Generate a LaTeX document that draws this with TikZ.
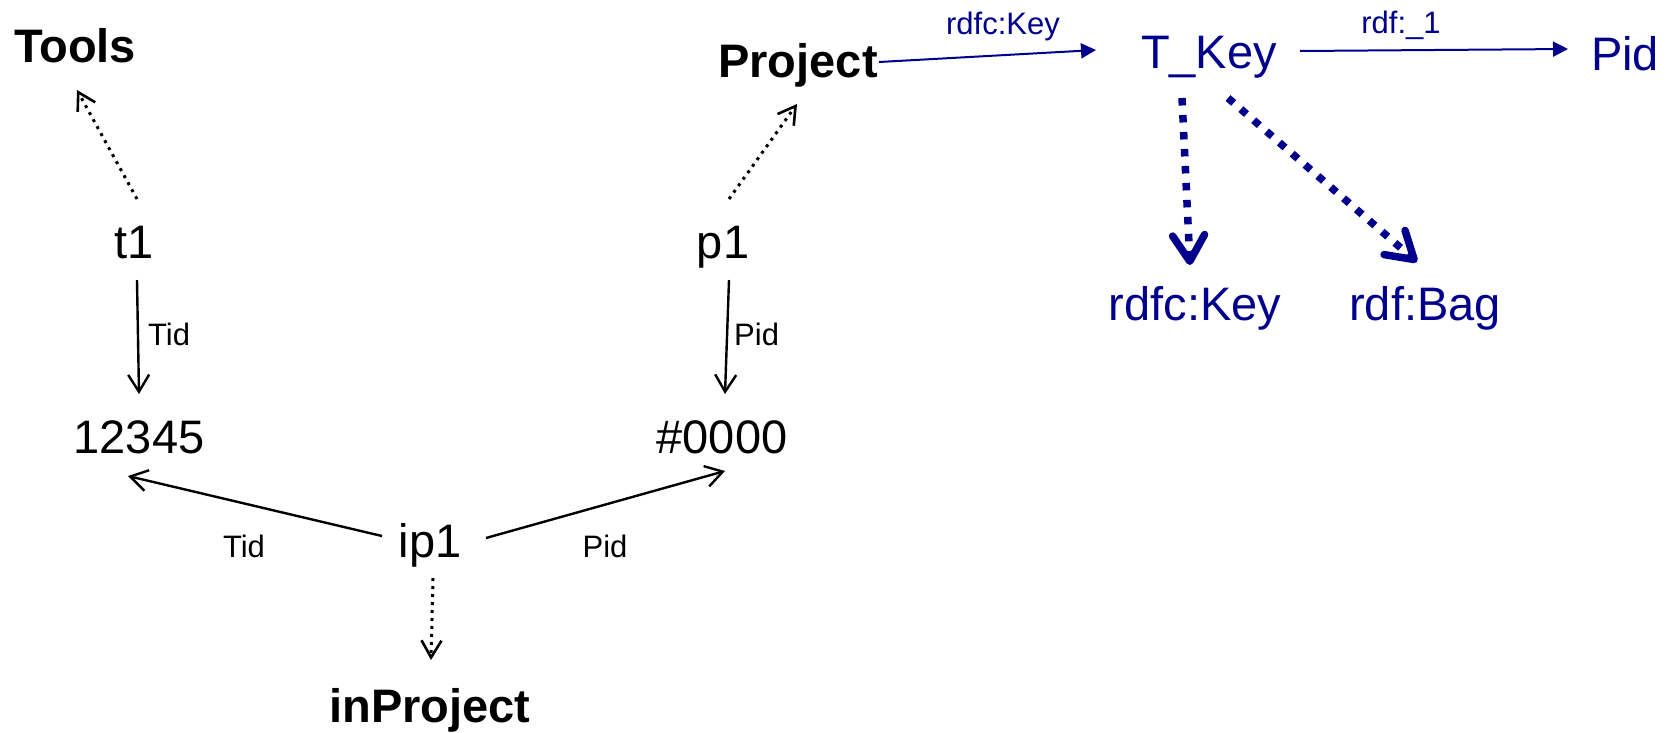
\documentclass[tikz,border=0pt]{standalone}
\usepackage{fontspec}
\setmainfont{Liberation Sans}
\usetikzlibrary{arrows.meta}
\definecolor{rdfblue}{RGB}{0,0,140}
\begin{document}
\begin{tikzpicture}[x=1pt,y=-1pt,
  big/.style={font=\fontsize{47}{56}\selectfont, inner sep=0pt, anchor=base},
  bigbold/.style={big, font=\fontsize{47}{56}\selectfont\bfseries},
  small/.style={font=\fontsize{31}{37}\selectfont, inner sep=0pt, anchor=base},
  rdfnode/.style={big, text=rdfblue},
  rdflabel/.style={small, text=rdfblue},
  link/.style={line width=2.4pt, -{Straight Barb[length=17pt,width=21pt]}},
  typeof/.style={line width=3pt, dash pattern=on 3pt off 5pt,
    -{Straight Barb[length=17pt,width=20pt,line width=2.6pt]}},
  rdflink/.style={draw=rdfblue, line width=2pt, -{Triangle[length=15pt,width=15pt]}},
  rdftype/.style={draw=rdfblue, line width=7.5pt, dash pattern=on 7.5pt off 9.5pt,
    -{Straight Barb[length=26pt,width=32pt,round]}},
]
\useasboundingbox (0,0) rectangle (1677,732);

% instance data
\node[bigbold] (tools)  at (75,62)   {Tools};
\node[big]     (t1)     at (134,258) {t1};
\node[big]     (p1)     at (723,258) {p1};
\node[big]     (n12345) at (139,453) {12345};
\node[big]     (n0000)  at (722,453) {\#0000};
\node[big]     (ip1)    at (430,557) {ip1};
\node[bigbold] (inproj) at (430,722) {inProject};
\node[bigbold] (project) at (798,77) {Project};

% key schema
\node[rdfnode] (tkey) at (1209,68)  {T\_Key};
\node[rdfnode] (pid)  at (1625,70)  {Pid};
\node[rdfnode] (rkey) at (1195,320) {rdfc:Key};
\node[rdfnode] (rbag) at (1425,320) {rdf:Bag};

% property labels
\node[small, anchor=base west] (tidA) at (148,345) {Tid};
\node[small, anchor=base west] (pidA) at (734,345) {Pid};
\node[small] (tidB) at (244,557) {Tid};
\node[small] (pidB) at (605,557) {Pid};
\node[rdflabel] (lkey) at (1003,34) {rdfc:Key};
\node[rdflabel] (lone) at (1401,33) {rdf:\_1};

% type links
\draw[typeof] ([shift={(3,-59)}]t1.base) -- ([shift={(2,28)}]tools.base);
\draw[typeof] ([shift={(6,-59)}]p1.base) -- ([shift={(-1,27)}]project.base);
\draw[typeof] ([shift={(3,21)}]ip1.base) -- ([shift={(1,-62)}]inproj.base);

% property links
\draw[link] ([shift={(3,22)}]t1.base) -- ([shift={(0,-59)}]n12345.base);
\draw[link] ([shift={(6,22)}]p1.base) -- ([shift={(3,-59)}]n0000.base);
\draw[link] ([shift={(-48,-21)}]ip1.base) -- ([shift={(-11,23)}]n12345.base);
\draw[link] ([shift={(56,-19)}]ip1.base) -- ([shift={(3,18)}]n0000.base);

% schema links
\draw[rdflink] ([shift={(81,-15)}]project.base) -- ([shift={(-113,-18)}]tkey.base);
\draw[rdflink] ([shift={(91,-17)}]tkey.base) -- ([shift={(-57,-21)}]pid.base);
\draw[rdftype] ([shift={(-27,30)}]tkey.base) -- ([shift={(-5,-55)}]rkey.base);
\draw[rdftype] ([shift={(19,30)}]tkey.base) -- ([shift={(-8,-58)}]rbag.base);
\end{tikzpicture}
\end{document}
